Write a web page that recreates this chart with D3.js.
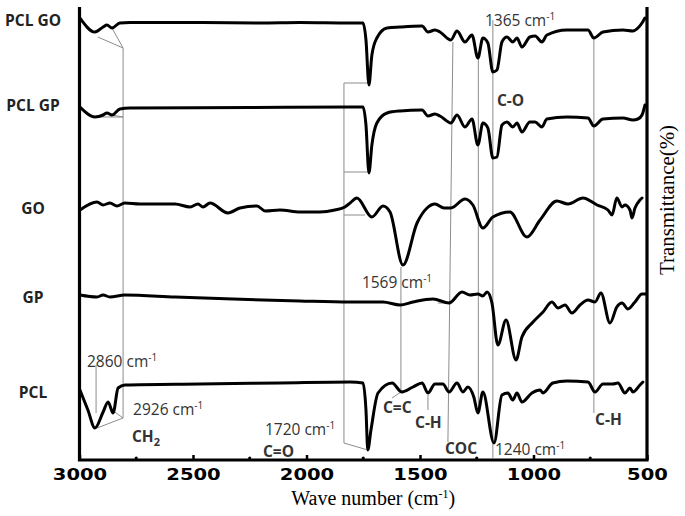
<!DOCTYPE html>
<html>
    <head>
        <meta charset="utf-8">
        <title>FTIR spectra</title>
        <style>
            body { margin: 0; background: white; }
            svg { display: block; }
            .trace { fill: none; stroke: black; stroke-width: 3; stroke-linejoin: round; stroke-linecap: round; }
            .guide { fill: none; stroke: #8c8c8c; stroke-width: 1; }
            .frame { stroke: black; stroke-width: 3.2; fill: none; }
            .name { font-family: "Open Sans", sans-serif; font-weight: bold; font-size: 15.5px; fill: #222; }
            .note { font-family: "Open Sans", sans-serif; font-size: 15.5px; fill: #333; }
            .group { font-family: "Open Sans", sans-serif; font-weight: bold; font-size: 15.5px; fill: #333; }
            .axis-title { font-family: "Liberation Serif", serif; font-size: 20px; }
        </style>
    </head>
    <body>
        <svg width="685" height="516"></svg>

        <script src="https://d3js.org/d3.v7.min.js"></script>
        <script>
            // wave number ticks (cm-1)
            let majorTicks = [3000, 2500, 2000, 1500, 1000, 500];
            let minorTicks = [2750, 2250, 1750, 1250, 750];

            let seriesNames = ['PCL GO', 'PCL GP', 'GO', 'GP', 'PCL'];

            // [wave number, transmittance (stacked, a.u.)]
            let pclGO = [
                [2998,88.4],[2932,85.6],[2896,86.6],[2879,87.0],[2857,86.4],[2822,87.4],[2778,87.5],
                [2470,87.5],[2205,87.4],[2029,87.5],[1808,87.4],[1751,87.4],[1738,84.0],[1725,75.0],
                [1712,81.0],[1690,84.4],[1645,86.4],[1588,86.6],[1491,86.8],[1465,85.6],[1434,86.0],
                [1412,85.6],[1364,84.0],[1337,85.8],[1302,83.6],[1271,85.0],[1245,80.4],[1223,84.4],
                [1201,83.4],[1179,77.6],[1161,78.0],[1139,83.6],[1117,84.6],[1091,83.6],[1073,84.4],
                [1051,82.6],[1016,84.6],[993,84.8],[963,83.6],[941,85.0],[853,86.0],[760,86.0],
                [734,84.4],[694,85.6],[606,86.0],[562,85.8],[540,86.4],[522,87.4],[509,88.4]
            ];
            let pclGP = [
                [2998,70.6],[2932,68.6],[2896,69.0],[2879,69.4],[2857,69.0],[2822,70.2],[2778,70.4],
                [2249,70.5],[1808,70.6],[1751,70.6],[1738,67.0],[1725,57.4],[1712,63.0],[1690,67.4],
                [1645,69.4],[1588,69.8],[1491,70.0],[1465,68.8],[1434,69.2],[1412,68.8],[1364,67.4],
                [1337,69.0],[1302,66.6],[1271,68.2],[1245,63.0],[1223,67.4],[1201,66.4],[1179,60.4],
                [1161,60.6],[1139,67.0],[1117,67.6],[1091,66.6],[1073,67.4],[1051,65.6],[1016,67.6],
                [993,67.6],[963,66.6],[941,68.2],[853,68.6],[760,68.4],[734,66.8],[694,68.2],
                [606,68.4],[562,68.0],[540,68.2],[522,69.0],[509,71.0]
            ];
            let go = [
                [2998,50.0],[2923,51.6],[2896,51.0],[2866,51.4],[2835,50.8],[2800,51.4],[2734,51.2],
                [2579,51.2],[2513,50.6],[2478,51.2],[2456,50.6],[2425,51.4],[2346,49.4],[2293,50.4],
                [2218,50.8],[2182,49.8],[2117,50.0],[2029,49.6],[1941,49.6],[1875,50.0],[1831,50.6],
                [1808,51.4],[1778,52.4],[1712,48.6],[1663,50.8],[1632,49.6],[1575,39.0],[1513,47.4],
                [1469,50.4],[1434,51.2],[1394,50.4],[1364,50.4],[1302,52.2],[1267,51.0],[1223,46.4],
                [1179,48.6],[1104,49.6],[1029,44.6],[971,48.0],[897,51.8],[848,51.2],[782,52.4],
                [720,51.0],[672,50.0],[654,49.0],[633,52.4],[610,50.6],[597,51.0],[575,50.0],
                [566,48.4],[553,50.4],[531,52.0],[522,52.4]
            ];
            let gp = [
                [2998,33.0],[2923,32.6],[2896,33.0],[2866,32.6],[2800,33.0],[2579,32.6],[2324,32.2],
                [2029,31.8],[1808,31.6],[1663,31.6],[1588,31.0],[1531,31.6],[1443,32.2],[1372,31.4],
                [1315,33.6],[1280,33.0],[1245,33.2],[1223,32.8],[1205,33.6],[1183,31.4],[1157,23.0],
                [1121,28.0],[1077,20.0],[1051,24.6],[1002,27.6],[958,29.6],[919,31.6],[892,30.4],
                [861,31.0],[831,29.4],[795,31.0],[760,32.0],[729,31.6],[703,33.4],[663,27.4],
                [633,30.6],[610,31.4],[584,30.2],[553,31.6],[522,33.2],[505,33.2]
            ];
            let pcl = [
                [2998,14.0],[2963,10.0],[2932,6.4],[2896,9.6],[2874,11.6],[2852,9.4],[2830,14.4],
                [2800,15.0],[2470,15.2],[2117,15.4],[1808,15.6],[1751,15.4],[1738,10.0],[1730,2.0],
                [1716,6.0],[1685,13.4],[1623,15.4],[1580,13.6],[1531,14.6],[1491,15.4],[1465,13.4],
                [1434,15.2],[1399,15.2],[1372,13.6],[1337,15.4],[1311,13.6],[1289,14.6],[1263,12.6],
                [1245,9.4],[1223,13.6],[1174,3.4],[1139,13.0],[1113,13.4],[1091,12.0],[1073,13.4],
                [1051,11.6],[1007,13.4],[971,14.0],[958,13.4],[915,15.4],[853,15.8],[760,15.6],
                [729,13.6],[694,15.2],[650,15.2],[628,15.4],[597,13.4],[575,14.4],[562,13.6],
                [531,15.0],[518,15.6]
            ];
            let spectra = [pclGO, pclGP, go, gp, pcl];
            let nameLevels = [86.8, 69.8, 49.2, 31.4, 12.4]; // where each name sits

            // grey leader lines, in [wave number, transmittance] pairs
            let guides = [
                [[2919,84.6],[2808,82.4]], [[2857,86.4],[2808,82.4]],
                [[2919,68.6],[2808,68.6]], [[2857,69.0],[2808,68.6]],
                [[2808,82.4],[2808,8.4]],
                [[2923,6.4],[2808,8.4]], [[2857,10.0],[2808,8.4]],
                [[2927,19.0],[2927,9.4]],
                [[1835,75.4],[1835,3.4]], [[1835,75.4],[1728,75.4]], [[1835,57.6],[1728,57.6]],
                [[1835,49.0],[1742,49.0]], [[1835,3.4],[1730,2.0]],
                [[1584,38.6],[1584,13.6],[1623,12.4]],
                [[1355,83.6],[1377,3.6]],
                [[1243,80.4],[1243,9.4]],
                [[1179,88.0],[1179,0.4]],
                [[734,84.4],[734,9.4]],
                [[1465,13.0],[1465,10.0]],
                [[1421,31.4],[1364,31.4]]
            ];

            // peak notes: text, sup, sub, wave number, level, class
            let notes = [
                ['1365 cm', '-1', '', 1214, 86.8, 'note'],
                ['C-O', '', '', 1161, 70.8, 'group'],
                ['1569 cm', '-1', '', 1756, 34.4, 'note'],
                ['2860 cm', '-1', '', 2967, 18.6, 'note'],
                ['2926 cm', '-1', '', 2764, 9.0, 'note'],
                ['CH', '', '2', 2769, 3.6, 'group'],
                ['1720 cm', '-1', '', 2183, 5.0, 'note'],
                ['C=O', '', '', 2192, 0.6, 'group'],
                ['C=C', '', '', 1663, 9.4, 'group'],
                ['C-H', '', '', 1522, 6.4, 'group'],
                ['COC', '', '', 1390, 1.2, 'group'],
                ['1240 cm', '-1', '', 1170, 1.0, 'note'],
                ['C-H', '', '', 729, 7.0, 'group']
            ];

            let svg = d3.select('svg');
            let margin = {left: 79.5, right: 38, top: 7, bottom: 56};
            let width = +svg.attr('width');
            let height = +svg.attr('height');

            let x = d3.scaleLinear()
                .domain([3000, 500])
                .range([margin.left, width - margin.right]);

            let y = d3.scaleLinear()
                .domain([0, 90.6])
                .range([height - margin.bottom, margin.top]);

            let line = d3.line()
                .x(d => x(d[0]))
                .y(d => y(d[1]))
                .curve(d3.curveMonotoneX);

            // grey leader lines go underneath the spectra
            svg.append('g')
                .selectAll('path')
                .data(guides)
                .join('path')
                    .attr('class', 'guide')
                    .attr('d', d3.line().x(d => x(d[0])).y(d => y(d[1])));

            svg.append('g')
                .selectAll('path')
                .data(spectra)
                .join('path')
                    .attr('class', 'trace')
                    .attr('d', line);

            // frame: left, bottom and right edges
            let y0 = y(0), y1 = y.range()[1];
            svg.append('path')
                .attr('class', 'frame')
                .attr('d', `M${x(3000)},${y1}V${y0}H${x(500)}V${y1}`);

            // ticks point up into the plot
            let xAxis = svg.append('g')
                .attr('transform', `translate(0,${y0})`)
                .call(d3.axisBottom(x)
                    .tickValues(majorTicks)
                    .tickFormat(d3.format('d'))
                    .tickSize(-5)
                    .tickPadding(9));
            xAxis.select('.domain').remove();
            xAxis.selectAll('line').attr('stroke-width', 2.5);
            xAxis.selectAll('text')
                .attr('font-family', '"DejaVu Sans", sans-serif')
                .attr('font-weight', 'bold')
                .attr('font-size', 15)
                .attr('textLength', d => String(d).length * 13.6)
                .attr('lengthAdjust', 'spacingAndGlyphs');

            svg.append('g')
                .selectAll('circle')
                .data(minorTicks)
                .join('circle')
                    .attr('cx', d => x(d))
                    .attr('cy', y0 - 2)
                    .attr('r', 1.6);

            // series names on the left
            svg.append('g')
                .selectAll('text')
                .data(seriesNames)
                .join('text')
                    .attr('class', 'name')
                    .attr('text-anchor', 'middle')
                    .attr('x', 33)
                    .attr('y', (d, i) => y(nameLevels[i]))
                    .text(d => d);

            // peak notes
            let noteText = svg.append('g')
                .selectAll('text')
                .data(notes)
                .join('text')
                    .attr('class', d => d[5])
                    .attr('x', d => x(d[3]))
                    .attr('y', d => y(d[4]));
            noteText.append('tspan').text(d => d[0]);
            noteText.filter(d => d[1]).append('tspan')
                .attr('dy', -6)
                .attr('font-size', '10px')
                .text(d => d[1]);
            noteText.filter(d => d[2]).append('tspan')
                .attr('dy', 4)
                .attr('font-size', '11px')
                .text(d => d[2]);

            // axis titles
            let xt = svg.append('text')
                .attr('class', 'axis-title')
                .attr('text-anchor', 'middle')
                .attr('x', (x(3000) + x(500)) / 2 + 10)
                .attr('y', 505);
            xt.append('tspan').text('Wave number (cm');
            xt.append('tspan').attr('dy', -7).attr('font-size', '12px').text('-1');
            xt.append('tspan').attr('dy', 7).text(')');

            svg.append('text')
                .attr('class', 'axis-title')
                .attr('text-anchor', 'middle')
                .attr('transform', `translate(674,${y(52)}) rotate(-90)`)
                .attr('textLength', 150)
                .attr('lengthAdjust', 'spacingAndGlyphs')
                .text('Transmittance(%)');
        </script>
    </body>
</html>
